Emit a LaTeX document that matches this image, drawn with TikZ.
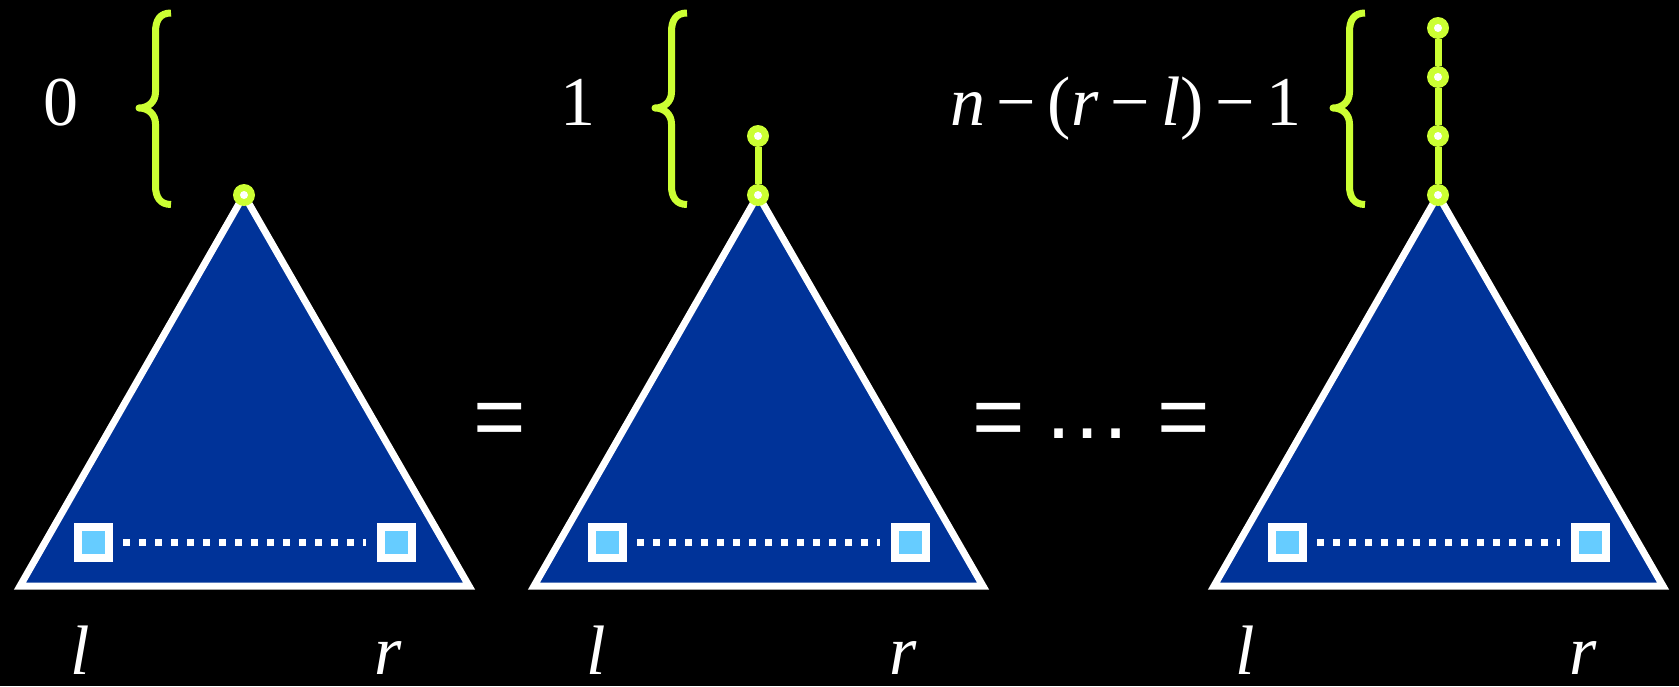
\documentclass[tikz,border=0pt]{standalone}
\usepackage{fontspec}
\newfontfamily\lblfont{Liberation Serif}
\newfontfamily\signfont{Liberation Sans}
\usetikzlibrary{calc}

\definecolor{treeblue}{RGB}{0,51,153}
\definecolor{leafblue}{RGB}{102,204,255}
\definecolor{pathgreen}{RGB}{204,255,51}

\tikzset{
  tree/.style={draw=white, fill=treeblue, line width=7pt, line join=miter},
  leaf/.style={rectangle, draw=white, fill=leafblue, line width=8pt,
    minimum size=31pt, inner sep=0pt},
  dotline/.style={white, line width=7pt, dash pattern=on 7pt off 9pt},
  vertex/.style={circle, fill=pathgreen, minimum size=22pt, inner sep=0pt,
    path picture={\fill[white] (path picture bounding box.center) circle (4pt);}},
  link/.style={pathgreen, line width=7pt},
  levelbrace/.style={pathgreen, line width=7pt, line join=round},
  lbl/.style={text=white, font=\lblfont\fontsize{70}{84}\selectfont, anchor=base, inner sep=0pt},
  sign/.style={text=white, font=\signfont\fontsize{90}{100}\selectfont, anchor=base, inner sep=0pt}
}

\begin{document}
\begin{tikzpicture}[x=1pt, y=-1pt]
  % background, fixes the page size
  \fill[black] (0,0) rectangle (1679,686);
  \useasboundingbox (0,0) rectangle (1679,686);

  % the three trees, leaves l and r joined by the dotted range
  \foreach \ax/\tn in {244/a, 758/b, 1438/c}{
    \draw[tree] (\ax,195) -- ++(-224,391) -- ++(449,0) -- cycle;
    \node[leaf] (l-\tn) at (\ax-150.5,542) {};
    \node[leaf] (r-\tn) at (\ax+152,542) {};
    \draw[dotline] ([xshift=10pt]l-\tn.east) -- ([xshift=-11pt]r-\tn.west);
    \node[vertex] (v0-\tn) at (\ax,195) {};
  }

  % extra vertices above the roots
  \node[vertex] (v1-b) at (758,136) {};
  \draw[link] (v0-b) -- (v1-b);
  \node[vertex] (v1-c) at (1438,136) {};
  \node[vertex] (v2-c) at (1438,77) {};
  \node[vertex] (v3-c) at (1438,28) {};
  \draw[link] (v0-c) -- (v1-c);
  \draw[link] (v1-c) -- (v2-c);
  \draw[link] (v2-c) -- (v3-c);

  % braces
  \foreach \bx in {0, 516, 1194}{
    \draw[levelbrace, xshift=\bx]
      (171,13) .. controls (160,13) and (155.5,20) .. (155.5,32)
      -- (155.5,92) .. controls (155.5,102) and (148,108) .. (139,108)
      .. controls (148,108) and (155.5,114) .. (155.5,124)
      -- (155.5,186) .. controls (155.5,197) and (160,204.5) .. (171,204.5);
  }

  % heights
  \node[lbl] (h0) at (61,125) {0};
  \node[lbl] (h1) at (578,125) {1};
  \node[lbl] (h2) at (1126,125) {\itshape n\upshape\,−\,(\itshape r\upshape\,−\,\itshape l\upshape)\,−\,1};

  % leaf labels
  \foreach \lx/\rx/\tn in {80/388/a, 596/903/b, 1245/1583/c}{
    \node[lbl] (tl-\tn) at (\lx,674) {\itshape l};
    \node[lbl] (tr-\tn) at (\rx,674) {\itshape r};
  }

  % equalities
  \node[sign] (eq1) at (500,447) {=};
  \node[sign] (eq2) at (999,447) {=};
  \node[sign] (dots) at (1087,438) {…};
  \node[sign] (eq3) at (1184,447) {=};
\end{tikzpicture}
\end{document}
